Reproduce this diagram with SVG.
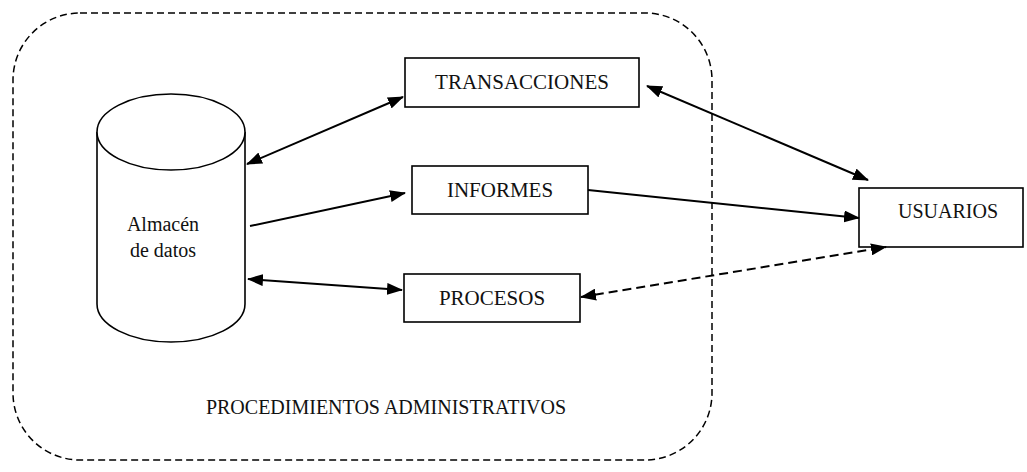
<svg xmlns="http://www.w3.org/2000/svg" width="1027" height="472" viewBox="0 0 1027 472">
<style>
.box{fill:#fff;stroke:#000;stroke-width:1.6}
.lbl{font-family:"Liberation Serif",serif;font-size:20px;fill:#111;text-anchor:middle}
.big{font-size:21px}
.con{stroke:#000;stroke-width:2;fill:none}
.dash{stroke-dasharray:9 5}
</style>
<defs>
<marker id="ah" viewBox="0 0 16 12" refX="15" refY="6" markerWidth="16" markerHeight="12" markerUnits="userSpaceOnUse" orient="auto-start-reverse">
<path d="M0,0 L16,6 L0,12 z" fill="#000"/>
</marker>
</defs>
<rect width="1027" height="472" fill="#fff"/>
<g id="procedimientos">
<rect x="13" y="13" width="699" height="447" rx="67" ry="67" fill="none" stroke="#000" stroke-width="1.5" stroke-dasharray="7 4"/>
<text class="lbl" x="386" y="414">PROCEDIMIENTOS ADMINISTRATIVOS</text>
</g>
<g id="almacen">
<path d="M97,132 L97,304 A74,38 0 0 0 245,304 L245,132" fill="#fff" stroke="#000" stroke-width="1.6"/>
<ellipse cx="171" cy="132" rx="74" ry="38" fill="#fff" stroke="#000" stroke-width="1.6"/>
<text class="lbl" x="163" y="231">Almacén</text>
<text class="lbl" x="163" y="257">de datos</text>
</g>
<g id="transacciones">
<rect class="box" x="405" y="58" width="234" height="49"/>
<text class="lbl big" x="522" y="89">TRANSACCIONES</text>
</g>
<g id="informes">
<rect class="box" x="412" y="166" width="176" height="48"/>
<text class="lbl big" x="500" y="197">INFORMES</text>
</g>
<g id="procesos">
<rect class="box" x="404" y="274" width="176" height="48"/>
<text class="lbl big" x="492" y="305">PROCESOS</text>
</g>
<g id="usuarios">
<rect class="box" x="859" y="188" width="164" height="59"/>
<text class="lbl" x="948" y="218">USUARIOS</text>
</g>
<g id="connectors">
<line class="con" x1="247" y1="164" x2="403" y2="97" marker-start="url(#ah)" marker-end="url(#ah)"/>
<line class="con" x1="250" y1="226" x2="405" y2="193" marker-end="url(#ah)"/>
<line class="con" x1="248" y1="279" x2="402" y2="290" marker-start="url(#ah)" marker-end="url(#ah)"/>
<line class="con" x1="647" y1="86" x2="868" y2="180" marker-start="url(#ah)" marker-end="url(#ah)"/>
<line class="con" x1="588" y1="190" x2="859" y2="218" marker-end="url(#ah)"/>
<line class="con dash" x1="581" y1="297" x2="886" y2="247" marker-start="url(#ah)" marker-end="url(#ah)"/>
</g>
</svg>
